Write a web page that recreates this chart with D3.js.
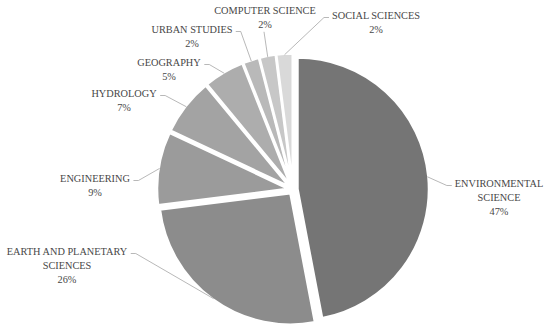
<!DOCTYPE html>
<html>
<head>
<meta charset="utf-8">
<script src="https://cdn.jsdelivr.net/npm/d3@7"></script>
<style>
  html, body { margin: 0; padding: 0; background: #fff; }
</style>
</head>
<body>
<script>
// Share of publications by subject area (%), clockwise from 12 o'clock
var categories = ["ENVIRONMENTAL\nSCIENCE", "EARTH AND PLANETARY\nSCIENCES", "ENGINEERING",
                  "HYDROLOGY", "GEOGRAPHY", "URBAN STUDIES", "COMPUTER SCIENCE", "SOCIAL SCIENCES"];
var values = [47, 26, 9, 7, 5, 2, 2, 2];
var shades = ["#757575", "#8c8c8c", "#9b9b9b", "#a3a3a3", "#adadad", "#b9b9b9", "#c7c7c7", "#d9d9d9"];

// where each label sits: centre x, first baseline y, side the leader line joins
var labelAt = [[499, 187, "left"], [67, 255, "right"], [95, 182, "right"], [124, 97, "right"],
               [169, 66, "right"], [192, 33, "right"], [265, 14, "bottom"], [376, 19, "left"]];

var width = 550,
    height = 332,
    cx = 293,
    cy = 189.5,
    radius = 131.5,
    explode = 4.5,   // every slice pulled out a bit
    lineGap = 13.8;

var svg = d3.select("body").append("svg")
    .attr("width", width)
    .attr("height", height);

var pie = d3.pie().sort(null).value(function(d) { return d; });
var arcs = pie(values);

var arc = d3.arc().innerRadius(0).outerRadius(radius);

var g = svg.append("g").attr("transform", "translate(" + cx + "," + cy + ")");

function mid(d) { return (d.startAngle + d.endAngle) / 2; }

g.selectAll("path")
    .data(arcs)
  .enter().append("path")
    .attr("d", arc)
    .attr("transform", function(d) {
      var a = mid(d);
      return "translate(" + explode * Math.sin(a) + "," + (-explode * Math.cos(a)) + ")";
    })
    .attr("fill", function(d, i) { return shades[i]; })
    .attr("stroke", "#fff")
    .attr("stroke-width", 2.5);

// labels
var labels = svg.selectAll("text.lbl")
    .data(arcs)
  .enter().append("text")
    .attr("class", "lbl")
    .attr("text-anchor", "middle")
    .attr("font-family", "'Liberation Serif', 'Times New Roman', serif")
    .attr("font-size", "10.3px")
    .attr("fill", "#474747")
    .attr("x", function(d, i) { return labelAt[i][0]; })
    .attr("y", function(d, i) { return labelAt[i][1]; });

labels.each(function(d, i) {
  var lines = categories[i].split("\n").concat([values[i] + "%"]);
  var t = d3.select(this);
  lines.forEach(function(s, k) {
    t.append("tspan")
      .attr("x", labelAt[i][0])
      .attr("dy", k ? lineGap : 0)
      .text(s);
  });
});

// leader lines from slice edge to the label
labels.each(function(d, i) {
  var first = this.firstChild.getBBox();
  var box = this.getBBox();
  var a = mid(d),
      rr = radius + explode - 1,
      px = cx + rr * Math.sin(a),
      py = cy - rr * Math.cos(a);
  var pts;
  var side = labelAt[i][2];
  var ly = first.y + first.height / 2 + 2;
  if (side == "right") {
    var lx = first.x + first.width + 3;
    pts = [[lx, ly], [lx + 5, ly], [px, py]];
  } else if (side == "left") {
    var lx = first.x - 3;
    pts = [[lx, ly], [lx - 5, ly], [px, py]];
  } else {
    pts = [[labelAt[i][0] - 1, box.y + box.height + 2], [px, py]];
  }
  svg.append("path")
    .attr("d", d3.line()(pts))
    .attr("fill", "none")
    .attr("stroke", "#a6a6a6")
    .attr("stroke-width", 0.8);
});
</script>
</body>
</html>
